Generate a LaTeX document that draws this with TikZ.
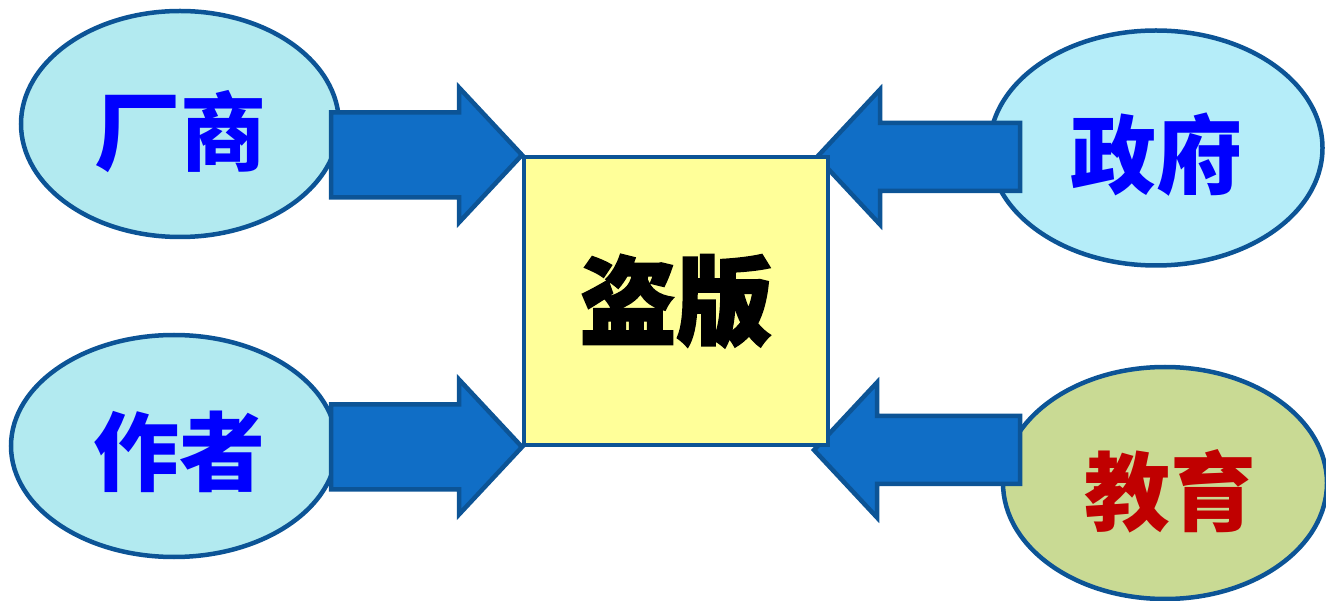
\documentclass[tikz,border=0pt]{standalone}
\usepackage{fontspec}
\usetikzlibrary{shapes.geometric}
\newfontfamily\cjk{Noto Sans CJK SC}
\newfontfamily\cjkheavy{Noto Sans CJK SC}[FakeBold=2.5]
\definecolor{rim}{RGB}{12,84,150}
\definecolor{arrowblue}{RGB}{16,110,198}
\definecolor{lightcyan}{RGB}{178,234,240}
\definecolor{skycyan}{RGB}{181,237,249}
\definecolor{eduolive}{RGB}{201,218,148}
\definecolor{paleyellow}{RGB}{255,255,153}
\definecolor{edured}{RGB}{192,0,0}
\pgfdeclarelayer{back}
\pgfdeclarelayer{mid}
\pgfsetlayers{back,mid,main}
\tikzset{
  party/.style={ellipse, draw=rim, line width=4.5pt, inner sep=0pt, outer sep=0pt},
  partytext/.style={font=\cjk\bfseries\fontsize{86}{90}\selectfont, text=blue},
  bigarrow/.style={draw=rim, fill=arrowblue, line width=4.5pt},
  piracy/.style={draw=rim, fill=paleyellow, line width=4pt, inner sep=0pt,
    minimum width=304pt, minimum height=288pt,
    font=\cjkheavy\bfseries\fontsize{96}{100}\selectfont},
}
\begin{document}
\begin{tikzpicture}[x=1pt,y=-1pt]
  \useasboundingbox (0,0) rectangle (1326,601);
  % centre box
  \node[piracy] (pir) at (676,301) {盗版};

  % the four parties
  \begin{pgfonlayer}{back}
    \node[party, fill=lightcyan, minimum width=318pt, minimum height=226pt] (maker) at (180,124) {};
    \node[party, fill=lightcyan, minimum width=326pt, minimum height=222pt] (author) at (174,446) {};
    \node[party, fill=skycyan, minimum width=333pt, minimum height=235pt] (gov) at (1156,148) {};
    \node[party, fill=eduolive, minimum width=324pt, minimum height=232pt] (edu) at (1165,483) {};
  \end{pgfonlayer}
  \node[partytext] (maker-t) at ([yshift=-8pt]maker.center) {厂商};
  \node[partytext] (author-t) at ([xshift=5pt,yshift=-6pt]author.center) {作者};
  \node[partytext] (gov-t) at ([yshift=-7pt]gov.center) {政府};
  \node[partytext, text=edured] (edu-t) at ([xshift=5pt,yshift=-8pt]edu.center) {教育};

  % block arrows, tip on the box
  \coordinate (gov-tip) at ([xshift=-13pt,yshift=-2pt]pir.north east);
  \coordinate (edu-tip) at ([xshift=-16pt,yshift=-3pt]pir.south east);
  \begin{pgfonlayer}{mid}
    \foreach \t in {north west, south west}
      \draw[bigarrow] (pir.\t) -- ++(-63,-67.5) -- ++(0,25) -- ++(-128,0)
        -- ++(0,85) -- ++(128,0) -- ++(0,25) -- cycle;
    \foreach \t/\len in {gov-tip/140, edu-tip/143}
      \draw[bigarrow] (\t) -- ++(63,-67.5) -- ++(0,33.5) -- ++(\len,0)
        -- ++(0,68) -- ++(-\len,0) -- ++(0,33.5) -- cycle;
  \end{pgfonlayer}
\end{tikzpicture}
\end{document}
